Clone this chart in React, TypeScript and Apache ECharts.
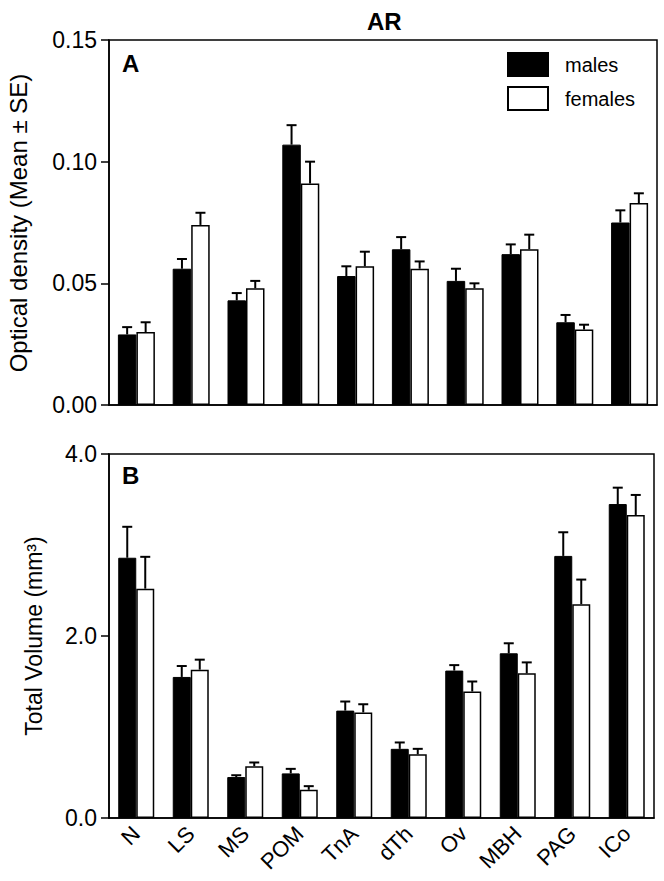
import React, { useEffect, useRef } from "react";
import * as echarts from "echarts";

const categories = ["N", "LS", "MS", "POM", "TnA", "dTh", "Ov", "MBH", "PAG", "ICo"];
const seriesNames = ["males", "females"];

const odMales = [0.029, 0.056, 0.043, 0.107, 0.053, 0.064, 0.051, 0.062, 0.034, 0.075];
const odMalesSE = [0.003, 0.004, 0.003, 0.008, 0.004, 0.005, 0.005, 0.004, 0.003, 0.005];
const odFemales = [0.030, 0.074, 0.048, 0.091, 0.057, 0.056, 0.048, 0.064, 0.031, 0.083];
const odFemalesSE = [0.004, 0.005, 0.003, 0.009, 0.006, 0.003, 0.002, 0.006, 0.002, 0.004];

const volMales = [2.86, 1.55, 0.45, 0.49, 1.18, 0.76, 1.62, 1.81, 2.88, 3.45];
const volMalesSE = [0.34, 0.12, 0.02, 0.05, 0.10, 0.07, 0.06, 0.11, 0.26, 0.18];
const volFemales = [2.52, 1.63, 0.57, 0.31, 1.16, 0.70, 1.39, 1.59, 2.35, 3.33];
const volFemalesSE = [0.35, 0.11, 0.04, 0.04, 0.09, 0.06, 0.11, 0.12, 0.27, 0.22];

const odTicks = { min: 0, max: 0.15, interval: 0.05 };
const volTicks = { min: 0, max: 4, interval: 2 };

const FONT = "'Liberation Sans', Arial, Helvetica, sans-serif";

function errorSeries(values: number[], errs: number[], axisIndex: number, offset: number) {
  return {
    type: "custom",
    xAxisIndex: axisIndex,
    yAxisIndex: axisIndex,
    z: 10,
    silent: true,
    data: values.map((v, i) => [i, v, errs[i]]),
    encode: { x: 0, y: 1 },
    renderItem: (params: any, api: any) => {
      const i = api.value(0);
      const v = api.value(1);
      const e = api.value(2);
      const base = api.coord([i, v]);
      const top = api.coord([i, v + e]);
      const x = base[0] + offset;
      return {
        type: "group",
        children: [
          {
            type: "line",
            shape: { x1: x, y1: base[1], x2: x, y2: top[1] },
            style: { stroke: "#000", lineWidth: 2 },
          },
          {
            type: "line",
            shape: { x1: x - 5, y1: top[1], x2: x + 5, y2: top[1] },
            style: { stroke: "#000", lineWidth: 2 },
          },
        ],
      };
    },
  };
}

export default function App() {
  const ref = useRef<HTMLDivElement>(null);

  useEffect(() => {
    if (!ref.current) return;
    const chart = echarts.init(ref.current, null, { renderer: "svg" });

    const yAxisCommon = {
      type: "value",
      axisLine: { show: true, onZero: false, lineStyle: { color: "#000", width: 1.5 } },
      axisTick: { show: true, inside: false, length: 8, lineStyle: { color: "#000", width: 1.5 } },
      splitLine: { show: false },
      axisLabel: { color: "#000", fontSize: 23, fontFamily: FONT, margin: 12 },
    };

    const bw1 = 18.5;
    const bw2 = 18;

    const option: any = {
      animation: false,
      backgroundColor: "#fff",
      title: {
        text: "AR",
        left: 367,
        top: 9,
        padding: 0,
        textStyle: { fontSize: 24, fontWeight: "bold", color: "#000", fontFamily: FONT },
      },
      legend: {
        data: seriesNames,
        orient: "vertical",
        left: 507,
        top: 52,
        icon: "rect",
        itemWidth: 40,
        itemHeight: 23,
        itemGap: 9,
        padding: 0,
        selectedMode: false,
        textStyle: { fontSize: 20, color: "#000", fontFamily: FONT, padding: [0, 0, 0, 12] },
      },
      grid: [
        { left: 109, top: 40, width: 548, height: 365, show: true, borderColor: "#000", borderWidth: 1.5, backgroundColor: "transparent" },
        { left: 109, top: 454, width: 545, height: 364, show: true, borderColor: "#000", borderWidth: 1.5, backgroundColor: "transparent" },
      ],
      xAxis: [
        {
          type: "category",
          gridIndex: 0,
          data: categories,
          axisLine: { show: true, lineStyle: { color: "#000", width: 1.5 } },
          axisTick: { show: false },
          axisLabel: { show: false },
        },
        {
          type: "category",
          gridIndex: 1,
          data: categories,
          axisLine: { show: true, lineStyle: { color: "#000", width: 1.5 } },
          axisTick: { show: false },
          axisLabel: { show: true, rotate: 45, fontSize: 22, color: "#000", fontFamily: FONT, margin: 12 },
        },
      ],
      yAxis: [
        {
          ...yAxisCommon,
          gridIndex: 0,
          min: odTicks.min,
          max: odTicks.max,
          interval: odTicks.interval,
          axisLabel: { ...yAxisCommon.axisLabel, formatter: (v: number) => v.toFixed(2) },
        },
        {
          ...yAxisCommon,
          gridIndex: 1,
          min: volTicks.min,
          max: volTicks.max,
          interval: volTicks.interval,
          axisLabel: { ...yAxisCommon.axisLabel, formatter: (v: number) => v.toFixed(1) },
        },
      ],
      series: [
        {
          name: "males",
          type: "bar",
          xAxisIndex: 0,
          yAxisIndex: 0,
          data: odMales,
          barWidth: bw1,
          barGap: "0%",
          itemStyle: { color: "#000", borderColor: "#000", borderWidth: 1 },
        },
        {
          name: "females",
          type: "bar",
          xAxisIndex: 0,
          yAxisIndex: 0,
          data: odFemales,
          barWidth: bw1,
          barGap: "0%",
          itemStyle: { color: "#fff", borderColor: "#000", borderWidth: 1.5 },
        },
        {
          name: "males",
          type: "bar",
          xAxisIndex: 1,
          yAxisIndex: 1,
          data: volMales,
          barWidth: bw2,
          barGap: "0%",
          itemStyle: { color: "#000", borderColor: "#000", borderWidth: 1 },
        },
        {
          name: "females",
          type: "bar",
          xAxisIndex: 1,
          yAxisIndex: 1,
          data: volFemales,
          barWidth: bw2,
          barGap: "0%",
          itemStyle: { color: "#fff", borderColor: "#000", borderWidth: 1.5 },
        },
        errorSeries(odMales, odMalesSE, 0, -bw1 / 2),
        errorSeries(odFemales, odFemalesSE, 0, bw1 / 2),
        errorSeries(volMales, volMalesSE, 1, -bw2 / 2),
        errorSeries(volFemales, volFemalesSE, 1, bw2 / 2),
      ],
      graphic: [
        {
          type: "text",
          left: 122,
          top: 51,
          style: { text: "A", fontSize: 24, fontWeight: "bold", fill: "#000", fontFamily: FONT },
        },
        {
          type: "text",
          left: 122,
          top: 463,
          style: { text: "B", fontSize: 24, fontWeight: "bold", fill: "#000", fontFamily: FONT },
        },
        {
          type: "text",
          x: 18,
          y: 223,
          rotation: Math.PI / 2,
          style: {
            text: "Optical density (Mean ± SE)",
            fontSize: 24,
            fill: "#000",
            fontFamily: FONT,
            align: "center",
            verticalAlign: "middle",
          },
        },
        {
          type: "text",
          x: 34,
          y: 636,
          rotation: Math.PI / 2,
          style: {
            text: "Total Volume (mm³)",
            fontSize: 23,
            fill: "#000",
            fontFamily: FONT,
            align: "center",
            verticalAlign: "middle",
          },
        },
      ],
    };

    chart.setOption(option);
    return () => chart.dispose();
  }, []);

  return (
    <div
      ref={ref}
      style={{ position: "absolute", left: 0, top: 0, width: 664, height: 881, background: "#fff" }}
    />
  );
}
